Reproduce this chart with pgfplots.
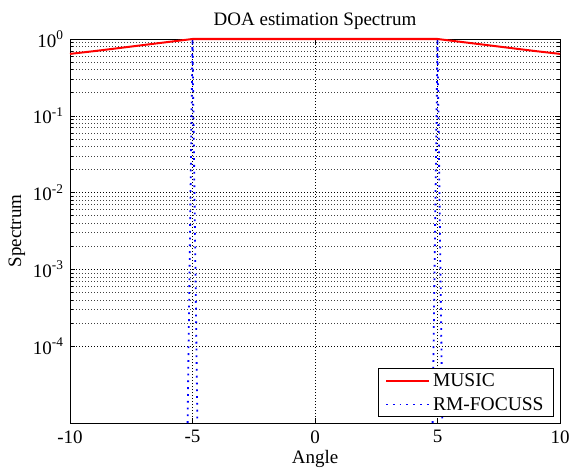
\documentclass[border=0pt]{standalone}
\usepackage{pgfplots}
\pgfplotsset{compat=1.18}
\usepackage{fontspec}
\setmainfont{Liberation Serif}

\begin{document}
\begin{tikzpicture}[font=\fontsize{19bp}{22bp}\selectfont]
    \begin{axis}[
        name=ax, at={(0,0)}, anchor=south west,
        scale only axis,
        width=490bp, height=384bp,
        ymode=log,
        xmin=-10, xmax=10,
        ymin=1e-5, ymax=1,
        clip=false,
        unbounded coords=jump,
        xtick={-10,-5,0,5,10},
        xticklabels={-10,-5,0,5,10},
        xticklabel style={yshift=-4bp},
        ytick={1e-4,1e-3,1e-2,1e-1,1},
        yticklabels={10\textsuperscript{-4},10\textsuperscript{-3},10\textsuperscript{-2},10\textsuperscript{-1},10\textsuperscript{0}},
        yticklabel style={xshift=-3bp},
        tick align=inside,
        tick pos=both,
        major tick length=5bp,
        minor tick length=3bp,
        every tick/.style={black, line width=0.6bp},
        xmajorgrids, ymajorgrids, yminorgrids,
        grid style={black, line width=0.6bp, dash pattern=on 1bp off 2bp},
        minor grid style={black!75, line width=0.6bp, dash pattern=on 1bp off 2bp},
        axis line style={black, line width=0.8bp},
        xlabel={Angle},
        xlabel style={yshift=0bp},
        ylabel={Spectrum},
        ylabel style={yshift=1bp},
        title={DOA estimation Spectrum},
        legend cell align=left,
        legend style={at={(1,0)}, anchor=south east, xshift=-6bp, yshift=6bp,
                      draw=black, line width=0.8bp, fill=white,
                      inner xsep=7bp, inner ysep=3bp, row sep=5bp,
                      nodes={inner xsep=3bp},
                      font=\fontsize{19.5bp}{22bp}\selectfont},
        legend image code/.code={\draw[#1] (0bp,0bp) -- (43bp,0bp);},
    ]

        % MUSIC
        \addplot[red, line width=2bp] coordinates {
            (-10,0.64) (-9,0.696) (-8,0.762) (-7,0.835) (-6,0.914) (-5,1)
            (-4,1) (-2,1) (0,1) (2,1) (4,1) (5,1)
            (6,0.914) (7,0.835) (8,0.762) (9,0.696) (10,0.64)
        };
        \addlegendentry{MUSIC}

        % RM-FOCUSS (zero elsewhere, drawn only at the peaks)
        \addplot[blue, line width=1.8bp, dash pattern=on 1.8bp off 5bp] coordinates {
            (-5.2,1e-5) (-5,1) (-4.8,1e-5) (0,nan)
            (4.8,1e-5) (5,1) (5.2,1e-5)
        };
        \addlegendentry{RM-FOCUSS}
    \end{axis}
    \pgfresetboundingbox
    \path[use as bounding box] (-70bp,-49bp) rectangle (502bp,423bp);
\end{tikzpicture}
\end{document}
